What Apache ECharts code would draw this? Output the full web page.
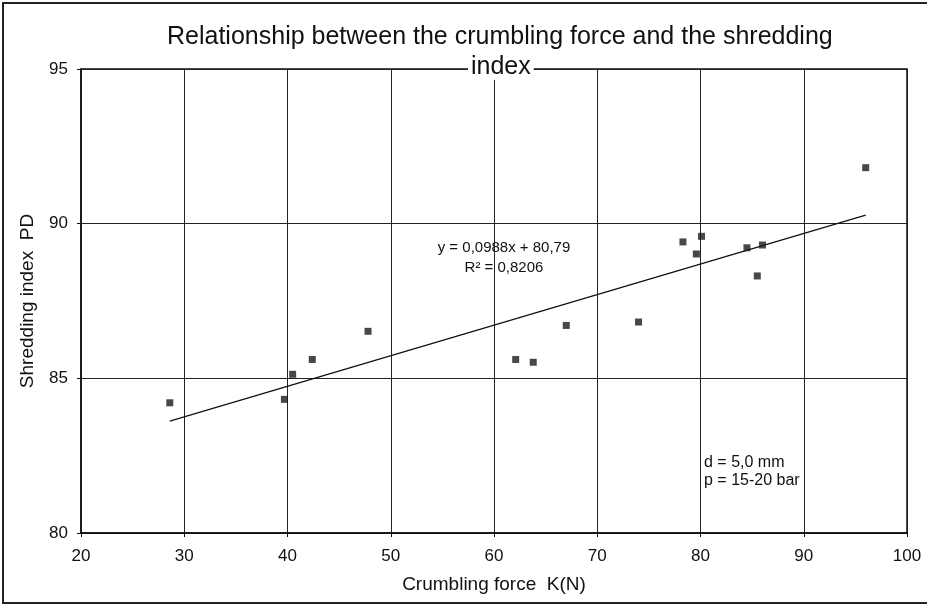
<!DOCTYPE html>
<html>
<head>
<meta charset="utf-8">
<script src="https://cdn.jsdelivr.net/npm/echarts@6/dist/echarts.min.js"></script>
<style>
  html, body { margin: 0; padding: 0; background: #fff; }
  #chart { width: 927px; height: 608px; }
</style>
</head>
<body>
<div id="chart"></div>
<script>
// crumbling force K(N) and shredding index PD
const forceX = [28.6, 39.7, 40.5, 42.4, 47.8, 62.1, 63.8, 67.0, 74.0, 78.3, 79.6, 80.1, 84.5, 85.5, 86.0, 96.0]
const shredY = [84.21, 84.32, 85.13, 85.61, 86.52, 85.61, 85.52, 86.71, 86.82, 89.41, 89.02, 89.59, 89.22, 88.31, 89.31, 91.81]

// linear trend printed on the chart
const slope = 0.0988
const intercept = 80.79
const rSquared = '0,8206'

const xTicks = [20, 30, 40, 50, 60, 70, 80, 90, 100]
const yTicks = [80, 85, 90, 95]

const points = forceX.map((x, i) => [x, shredY[i]])
const xMin = Math.min(...forceX)
const xMax = Math.max(...forceX)
const trend = [xMin, xMax].map(x => [x, slope * x + intercept])

const narrow = "'Liberation Sans Narrow', 'Liberation Sans', Arial, sans-serif"
const sans = "'Liberation Sans', Arial, sans-serif"

const chart = echarts.init(document.getElementById('chart'))

chart.setOption({
  backgroundColor: '#fff',
  animation: false,
  title: [
    {
      text: 'Relationship between the crumbling force and the shredding',
      left: 162,
      top: 20,
      textStyle: { fontFamily: sans, fontSize: 25, fontWeight: 'normal', color: '#111' }
    },
    {
      text: 'index',
      left: 468,
      top: 55,
      padding: [0, 3],
      backgroundColor: '#fff',
      textStyle: { fontFamily: sans, fontSize: 25, fontWeight: 'normal', color: '#111' }
    }
  ],
  grid: { left: 81, right: 20, top: 69, bottom: 75, show: true, borderColor: '#111', borderWidth: 1.5 },
  xAxis: {
    type: 'value',
    min: xTicks[0],
    max: xTicks[xTicks.length - 1],
    interval: 10,
    name: 'Crumbling force  K(N)',
    nameLocation: 'middle',
    nameGap: 42,
    nameTextStyle: { fontFamily: narrow, fontSize: 19, color: '#111' },
    axisLine: { lineStyle: { color: '#111', width: 1.5 } },
    axisTick: { show: true, length: 4, lineStyle: { color: '#111' } },
    axisLabel: { fontFamily: narrow, fontSize: 17, color: '#111', margin: 15 },
    splitLine: { show: true, lineStyle: { color: '#222', width: 1 } }
  },
  yAxis: {
    type: 'value',
    min: yTicks[0],
    max: yTicks[yTicks.length - 1],
    interval: 5,
    name: 'Shredding index  PD',
    nameLocation: 'middle',
    nameGap: 44,
    nameTextStyle: { fontFamily: sans, fontSize: 19, color: '#111' },
    axisLine: { show: true, lineStyle: { color: '#111', width: 1.5 } },
    axisTick: { show: true, length: 4, lineStyle: { color: '#111' } },
    axisLabel: { fontFamily: narrow, fontSize: 17, color: '#111', margin: 13 },
    splitLine: { show: true, lineStyle: { color: '#222', width: 1 } }
  },
  series: [
    {
      type: 'scatter',
      data: points,
      symbol: 'rect',
      symbolSize: 7,
      itemStyle: { color: '#1a1a1a' },
      z: 3
    },
    {
      type: 'line',
      data: trend,
      showSymbol: false,
      lineStyle: { color: '#111', width: 1.3 },
      z: 2
    }
  ],
  graphic: [
    {
      type: 'rect',
      shape: { x: 3, y: 3, width: 940, height: 600 },
      style: { fill: 'none', stroke: '#222', lineWidth: 2 },
      silent: true
    },
    {
      type: 'text',
      x: 504, y: 248,
      style: {
        text: 'y = 0,0988x + 80,79',
        font: "15px 'Liberation Sans', Arial, sans-serif",
        fill: '#111', align: 'center', verticalAlign: 'middle'
      }
    },
    {
      type: 'text',
      x: 504, y: 268,
      style: {
        text: 'R\u00b2 = ' + rSquared,
        font: "15px 'Liberation Sans', Arial, sans-serif",
        fill: '#111', align: 'center', verticalAlign: 'middle'
      }
    },
    {
      type: 'text',
      x: 704, y: 472,
      style: {
        text: 'd = 5,0 mm\np = 15-20 bar',
        font: "16px 'Liberation Sans', Arial, sans-serif",
        lineHeight: 18,
        fill: '#111', align: 'left', verticalAlign: 'middle'
      }
    }
  ]
})
</script>
</body>
</html>
